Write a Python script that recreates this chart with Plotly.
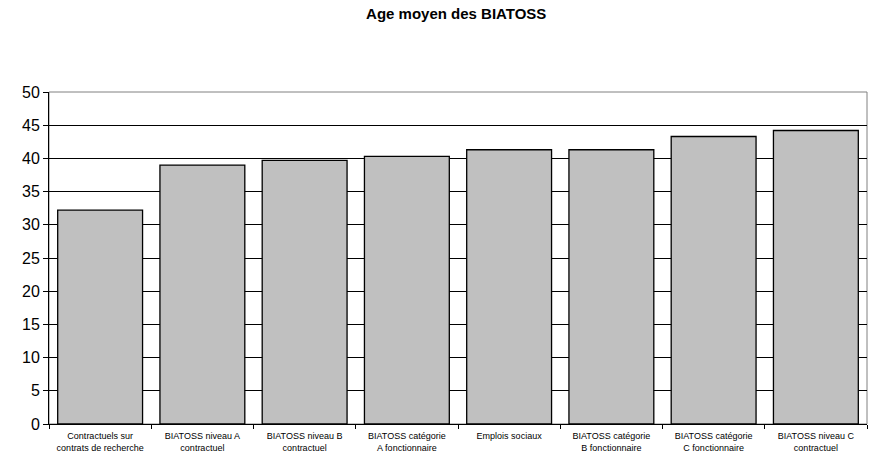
import plotly.graph_objects as go

categories = [
    "Contractuels sur<br>contrats de recherche",
    "BIATOSS niveau A<br>contractuel",
    "BIATOSS niveau B<br>contractuel",
    "BIATOSS catégorie<br>A fonctionnaire",
    "Emplois sociaux",
    "BIATOSS catégorie<br>B fonctionnaire",
    "BIATOSS catégorie<br>C fonctionnaire",
    "BIATOSS niveau C<br>contractuel",
]
ages = [32.2, 39.0, 39.7, 40.3, 41.3, 41.3, 43.3, 44.2]

fig = go.Figure()
fig.add_trace(go.Bar(
    x=categories,
    y=ages,
    marker=dict(color="#c0c0c0", line=dict(color="black", width=1.3)),
    width=0.83,
))

fig.update_layout(
    width=869, height=457,
    margin=dict(l=49, r=2, t=92, b=33),
    paper_bgcolor="white", plot_bgcolor="white",
    font=dict(family="Liberation Sans, Arial", color="black"),
    title=dict(text="<b>Age moyen des BIATOSS</b>", x=0.525, xanchor="center",
               y=0.97, yanchor="middle", font=dict(size=15)),
    showlegend=False,
)
fig.update_yaxes(
    range=[0, 50], dtick=5, tickfont=dict(size=16),
    showgrid=True, gridcolor="black", gridwidth=1,
    showline=True, linecolor="black", linewidth=1,
    ticks="outside", ticklen=5, tickcolor="black",
    zeroline=False, mirror=False,
)
fig.update_xaxes(
    tickfont=dict(size=9), showline=True, linecolor="black", linewidth=1,
    ticks="outside", tickson="boundaries", ticklen=4, tickcolor="black",
    tickangle=0, ticklabelstandoff=3,
)
fig.add_shape(type="rect", xref="paper", yref="paper", x0=0, x1=1, y0=0, y1=1,
              line=dict(color="#808080", width=1), layer="below")

fig.write_html("out.html", config={"displayModeBar": False})

# drop the default page margin so the chart sits at the window's corner
with open("out.html", encoding="utf-8") as f:
    page = f.read()
page = page.replace("<body>", '<body style="margin:0">', 1)
with open("out.html", "w", encoding="utf-8") as f:
    f.write(page)
